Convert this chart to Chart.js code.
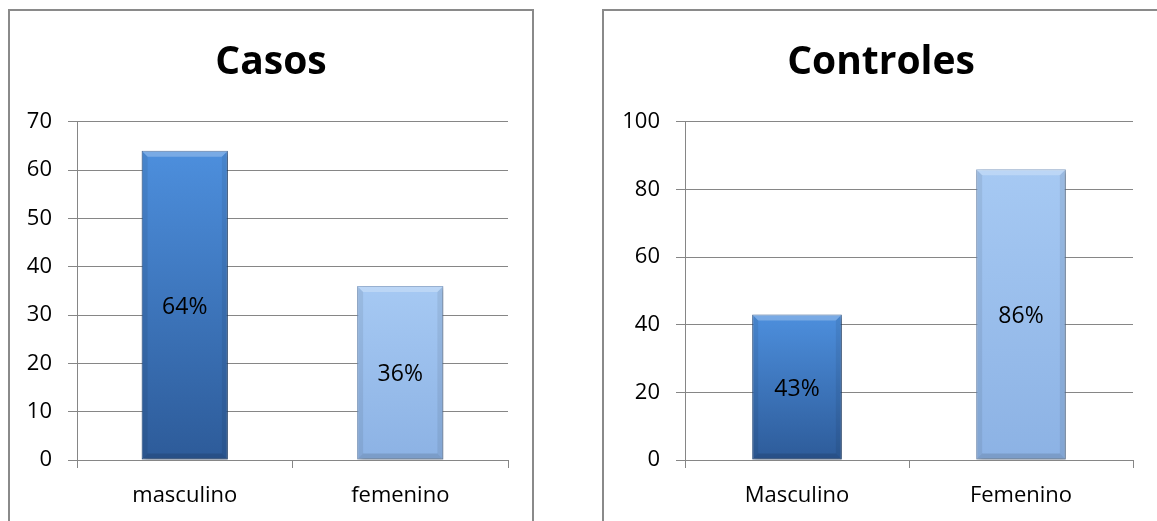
<!DOCTYPE html>
<html>
<head>
<meta charset="utf-8">
<script src="https://cdn.jsdelivr.net/npm/chart.js@4"></script>
<style>
	body { margin: 0; background: #fff; width: 1157px; height: 521px; overflow: hidden; position: relative; }
	.box { position: absolute; border: 2px solid #8a8a8a; box-sizing: border-box; background: #fff; }
	.box canvas { position: absolute; left: 0; top: 0; }
</style>
</head>
<body>
<div class="box" style="left:8px; top:9px; width:526px; height:540px;">
	<canvas id="casos" width="522" height="510"></canvas>
</div>
<div class="box" style="left:602px; top:9px; width:558px; height:540px;">
	<canvas id="controles" width="554" height="510"></canvas>
</div>
<script>
const casosLabels = ["masculino", "femenino"]
const casosValues = [64, 36]
const casosTicks = { max: 70, step: 10 }

const controlesLabels = ["Masculino", "Femenino"]
const controlesValues = [43, 86]
const controlesTicks = { max: 100, step: 20 }

const font = "'Open Sans', sans-serif"
const gridGray = "#868686"

// dark blue for the first bar, light blue for the second
const barTop = ["#4d8fdd", "#a6c9f3"]
const barBottom = ["#2d5b99", "#8cb2e4"]
const barEdge = ["#2a5590", "#7d9fcc"]

// gradient runs over each bar's own height
const barFill = ctx => {
	const y = ctx.chart.scales.y
	if (!ctx.chart.chartArea || !y) return barTop[ctx.dataIndex]
	const top = y.getPixelForValue(ctx.raw)
	const g = ctx.chart.ctx.createLinearGradient(0, top, 0, y.getPixelForValue(0))
	g.addColorStop(0, barTop[ctx.dataIndex])
	g.addColorStop(1, barBottom[ctx.dataIndex])
	return g
}

const barShadow = {
	id: "barShadow",
	beforeDatasetDraw: chart => {
		const c = chart.ctx
		c.save()
		c.shadowColor = "rgba(0,0,0,0.35)"
		c.shadowBlur = 5
		c.shadowOffsetX = 2
		c.shadowOffsetY = 2
	},
	afterDatasetDraw: chart => chart.ctx.restore()
}

const bevel = {
	id: "bevel",
	afterDatasetsDraw: chart => {
		const c = chart.ctx
		chart.getDatasetMeta(0).data.forEach(bar => {
			const l = bar.x - bar.width / 2, r = bar.x + bar.width / 2
			const t = bar.y, b = bar.base, d = 6
			c.save()
			c.fillStyle = "rgba(255,255,255,0.25)"
			c.beginPath()
			c.moveTo(l, t); c.lineTo(r, t); c.lineTo(r - d, t + d); c.lineTo(l + d, t + d); c.closePath()
			c.fill()
			c.fillStyle = "rgba(0,0,0,0.07)"
			c.beginPath()
			c.moveTo(l, t); c.lineTo(l + d, t + d); c.lineTo(l + d, b - d); c.lineTo(l, b); c.closePath()
			c.fill()
			c.beginPath()
			c.moveTo(r, t); c.lineTo(r - d, t + d); c.lineTo(r - d, b - d); c.lineTo(r, b); c.closePath()
			c.fill()
			c.fillStyle = "rgba(0,0,0,0.12)"
			c.beginPath()
			c.moveTo(l, b); c.lineTo(l + d, b - d); c.lineTo(r - d, b - d); c.lineTo(r, b); c.closePath()
			c.fill()
			c.restore()
		})
	}
}

const percentLabels = {
	id: "percentLabels",
	afterDatasetsDraw: chart => {
		const c = chart.ctx
		const values = chart.data.datasets[0].data
		c.save()
		c.font = "23px " + font
		c.fillStyle = "#000"
		c.textAlign = "center"
		c.textBaseline = "middle"
		chart.getDatasetMeta(0).data.forEach((bar, i) => {
			c.fillText(values[i] + "%", bar.x, (bar.y + bar.base) / 2 + 2)
		})
		c.restore()
	}
}

const createChart = (id, title, labels, values, ticks, axisWidth, sidePad) => new Chart(document.getElementById(id), {
	type: "bar",
	data: {
		labels,
		datasets: [{
			data: values,
			backgroundColor: barFill,
			borderColor: values.map((v, i) => barEdge[i]),
			borderWidth: 1,
			borderSkipped: false,
			categoryPercentage: 1,
			barPercentage: 0.4
		}]
	},
	options: {
		responsive: false,
		animation: false,
		layout: { padding: 0 },
		plugins: {
			legend: { display: false },
			tooltip: { enabled: false },
			title: {
				display: true,
				text: title,
				color: "#000",
				font: { family: font, size: 39, weight: "bold", lineHeight: 1.2 },
				padding: { top: 28, bottom: 36 }
			}
		},
		scales: {
			x: {
				afterFit: scale => { scale.height = 61 },
				grid: { display: true, drawOnChartArea: false, offset: true, color: gridGray, tickLength: 8 },
				border: { color: gridGray },
				ticks: { color: "#000", font: { family: font, size: 22 }, padding: 15 }
			},
			y: {
				min: 0,
				max: ticks.max,
				afterFit: scale => { scale.width = axisWidth },
				grid: { color: gridGray, tickLength: 9 },
				border: { color: gridGray },
				ticks: { stepSize: ticks.step, color: "#000", font: { family: font, size: 22 }, padding: 16 }
			},
			// empty axis that only keeps the right margin free
			spacer: {
				position: "right",
				afterFit: scale => { scale.width = sidePad },
				grid: { display: false },
				border: { display: false },
				ticks: { display: false }
			}
		}
	},
	plugins: [barShadow, bevel, percentLabels]
})

document.addEventListener("DOMContentLoaded", () => {
	createChart("casos", "Casos", casosLabels, casosValues, casosTicks, 67, 24)
	createChart("controles", "Controles", controlesLabels, controlesValues, controlesTicks, 81, 25)
})
</script>
</body>
</html>
